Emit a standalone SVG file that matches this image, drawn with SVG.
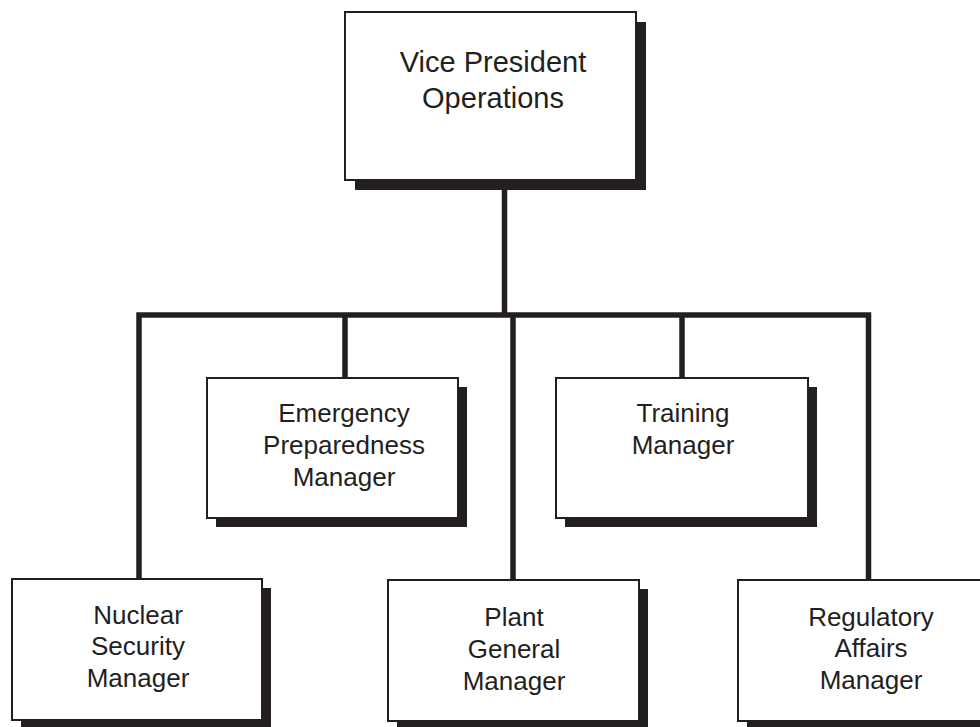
<svg xmlns="http://www.w3.org/2000/svg" width="980" height="727" viewBox="0 0 980 727">
  <style>
    .shadow { fill: #231f20; }
    .box { fill: #ffffff; stroke: #231f20; stroke-width: 2; }
    .label { font-family: "Liberation Sans", Arial, sans-serif; font-size: 26px; fill: #231f20; text-anchor: middle; }
    .top { font-size: 29px; }
    .wire { fill: none; stroke: #231f20; stroke-width: 5.5; stroke-linejoin: miter; stroke-linecap: butt; }
  </style>
  <rect width="980" height="727" fill="#ffffff"/>

  <!-- reporting lines -->
  <g id="connectors">
    <path class="wire" d="M504.5,190 V315"/>
    <path class="wire" d="M139,579 V315 H868.5 V580"/>
    <path class="wire" d="M345,315 V378"/>
    <path class="wire" d="M513,315 V580"/>
    <path class="wire" d="M682,315 V378"/>
  </g>

  <g id="vp-operations">
    <rect class="shadow" x="355" y="22" width="291" height="168"/>
    <rect class="box" x="345" y="12" width="291" height="168"/>
    <text class="label top" x="493" y="72">Vice President</text>
    <text class="label top" x="493" y="108">Operations</text>
  </g>

  <g id="emergency-preparedness">
    <rect class="shadow" x="216" y="387" width="251" height="140"/>
    <rect class="box" x="207" y="378" width="251" height="140"/>
    <text class="label" x="344" y="422">Emergency</text>
    <text class="label" x="344" y="454">Preparedness</text>
    <text class="label" x="344" y="486">Manager</text>
  </g>

  <g id="training">
    <rect class="shadow" x="565" y="387" width="252" height="140"/>
    <rect class="box" x="556" y="378" width="252" height="140"/>
    <text class="label" x="683" y="422">Training</text>
    <text class="label" x="683" y="454">Manager</text>
  </g>

  <g id="nuclear-security">
    <rect class="shadow" x="21" y="588" width="250" height="141"/>
    <rect class="box" x="12" y="579" width="250" height="141"/>
    <text class="label" x="138" y="624">Nuclear</text>
    <text class="label" x="138" y="655">Security</text>
    <text class="label" x="138" y="687">Manager</text>
  </g>

  <g id="plant-general">
    <rect class="shadow" x="397" y="589" width="251" height="141"/>
    <rect class="box" x="388" y="580" width="251" height="141"/>
    <text class="label" x="514" y="626">Plant</text>
    <text class="label" x="514" y="658">General</text>
    <text class="label" x="514" y="690">Manager</text>
  </g>

  <g id="regulatory-affairs">
    <rect class="shadow" x="747" y="589" width="250" height="141"/>
    <rect class="box" x="738" y="580" width="250" height="141"/>
    <text class="label" x="871" y="626">Regulatory</text>
    <text class="label" x="871" y="657">Affairs</text>
    <text class="label" x="871" y="689">Manager</text>
  </g>
</svg>
